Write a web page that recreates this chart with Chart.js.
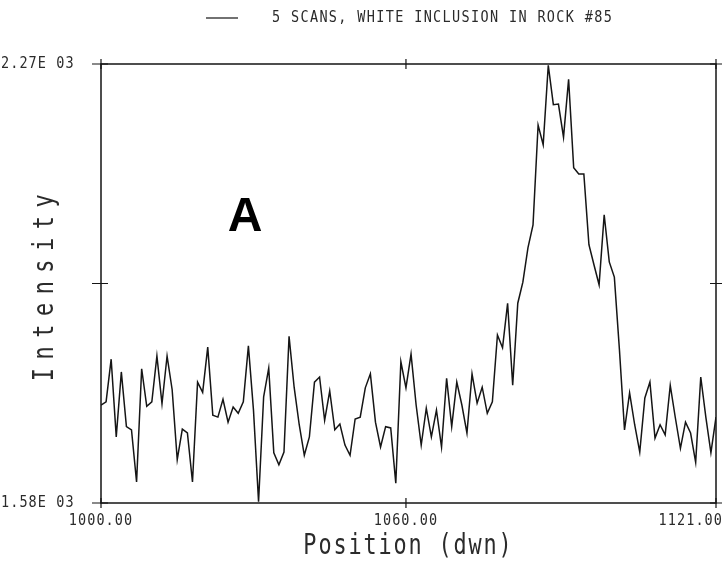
<!DOCTYPE html>
<html>
<head>
<meta charset="utf-8">
<script src="https://cdn.jsdelivr.net/npm/chart.js@4/dist/chart.umd.min.js"></script>
<style>
  html, body { margin: 0; padding: 0; background: #ffffff; }
  #wrap { width: 727px; height: 568px; position: relative; }
</style>
</head>
<body>
<div id="wrap"><canvas id="c" width="727" height="568"></canvas></div>
<script>
// ---- data ----
const positions = [
  1000,1001,1002,1003,1004,1005,1006,1007,1008,1009,
  1010,1011,1012,1013,1014,1015,1016,1017,1018,1019,
  1020,1021,1022,1023,1024,1025,1026,1027,1028,1029,
  1030,1031,1032,1033,1034,1035,1036,1037,1038,1039,
  1040,1041,1042,1043,1044,1045,1046,1047,1048,1049,
  1050,1051,1052,1053,1054,1055,1056,1057,1058,1059,
  1060,1061,1062,1063,1064,1065,1066,1067,1068,1069,
  1070,1071,1072,1073,1074,1075,1076,1077,1078,1079,
  1080,1081,1082,1083,1084,1085,1086,1087,1088,1089,
  1090,1091,1092,1093,1094,1095,1096,1097,1098,1099,
  1100,1101,1102,1103,1104,1105,1106,1107,1108,1109,
  1110,1111,1112,1113,1114,1115,1116,1117,1118,1119,
  1120,1121
];
const intensity = [
  1734,1739,1806,1684,1786,1700,1695,1613,1791,1732,
  1739,1811,1736,1811,1758,1648,1696,1690,1613,1770,
  1754,1825,1718,1715,1743,1707,1731,1721,1739,1827,
  1726,1582,1747,1792,1659,1640,1660,1842,1762,1703,
  1655,1684,1770,1778,1710,1756,1695,1704,1671,1655,
  1712,1715,1761,1783,1707,1668,1700,1698,1611,1802,
  1761,1814,1734,1671,1729,1684,1726,1668,1776,1700,
  1770,1734,1690,1783,1737,1762,1721,1739,1844,1824,
  1894,1765,1894,1927,1981,2017,2174,2143,2268,2206,
  2207,2155,2246,2107,2097,2097,1986,1954,1923,2033,
  1959,1935,1821,1695,1753,1703,1660,1745,1770,1682,
  1703,1687,1765,1714,1666,1707,1690,1644,1778,1715,
  1659,1715
];
const xTicks = [1000, 1060, 1121];
const xTickLabels = ["1000.00", "1060.00", "1121.00"];
const yTicks = [1580, 1925, 2270];
const yTickLabels = ["1.58E 03", "", "2.27E 03"];
const seriesLabel = "5 SCANS, WHITE INCLUSION IN ROCK #85";
const xTitle = "Position (dwn)";
const yTitle = "Intensity";
const panelLetter = "A";

const INK = '#151515';
const TXT = '#2b2b2b';
const MONO = '"DejaVu Sans Mono", "Liberation Mono", monospace';

// draw text horizontally compressed (plotter-like narrow glyphs)
function narrowText(ctx, text, x, y, sx, spacing) {
  ctx.save();
  ctx.translate(x, y);
  ctx.scale(sx, 1);
  ctx.letterSpacing = spacing + 'px';
  ctx.fillText(text, 0, 0);
  ctx.restore();
}

const decor = {
  id: 'decor',
  afterDatasetsDraw(chart) {
    const ctx = chart.ctx;
    const a = chart.chartArea;
    const xs = chart.scales.x, ys = chart.scales.y;
    ctx.save();
    // frame
    ctx.strokeStyle = INK;
    ctx.lineWidth = 1.5;
    ctx.strokeRect(a.left, a.top, a.right - a.left, a.bottom - a.top);
    // tick crosses
    ctx.lineWidth = 1.2;
    ctx.beginPath();
    xTicks.forEach(v => {
      const px = xs.getPixelForValue(v);
      ctx.moveTo(px, a.bottom - 5); ctx.lineTo(px, a.bottom + 5);
      ctx.moveTo(px, a.top - 5); ctx.lineTo(px, a.top + 5);
    });
    yTicks.forEach(v => {
      const py = ys.getPixelForValue(v);
      ctx.moveTo(a.left - 9, py); ctx.lineTo(a.left + 7, py);
      ctx.moveTo(a.right - 6, py); ctx.lineTo(a.right + 6, py);
    });
    ctx.stroke();

    ctx.fillStyle = TXT;
    // y tick labels
    ctx.font = '15px ' + MONO;
    ctx.textBaseline = 'middle';
    ctx.textAlign = 'left';
    yTicks.forEach((v, i) => {
      if (yTickLabels[i]) narrowText(ctx, yTickLabels[i], 1, ys.getPixelForValue(v), 0.9, 1.2);
    });
    // x tick labels
    ctx.textBaseline = 'top';
    xTicks.forEach((v, i) => {
      const px = xs.getPixelForValue(v);
      if (i === xTicks.length - 1) { ctx.textAlign = 'right'; narrowText(ctx, xTickLabels[i], px + 7, a.bottom + 11, 0.9, 1.2); }
      else { ctx.textAlign = 'center'; narrowText(ctx, xTickLabels[i], px, a.bottom + 11, 0.9, 1.2); }
    });

    // axis titles (tall, narrow glyphs)
    ctx.font = '28px ' + MONO;
    ctx.textAlign = 'center';
    ctx.textBaseline = 'middle';
    narrowText(ctx, xTitle, (a.left + a.right) / 2, 547, 0.78, 2.4);
    ctx.save();
    ctx.translate(46, (a.top + a.bottom) / 2);
    ctx.rotate(-Math.PI / 2);
    narrowText(ctx, yTitle, 0, 0, 0.78, 11);
    ctx.restore();

    // legend
    ctx.font = '15px ' + MONO;
    ctx.textAlign = 'left';
    ctx.textBaseline = 'middle';
    narrowText(ctx, seriesLabel, 272, 18, 0.9, 1.5);
    ctx.strokeStyle = INK;
    ctx.lineWidth = 1.2;
    ctx.beginPath();
    ctx.moveTo(206, 18); ctx.lineTo(238, 18);
    ctx.stroke();

    // panel letter
    ctx.fillStyle = '#000';
    ctx.letterSpacing = '0px';
    ctx.font = 'bold 48px "Liberation Sans", Arial, sans-serif';
    ctx.textAlign = 'center';
    ctx.textBaseline = 'middle';
    ctx.fillText(panelLetter, 245, 218);
    ctx.restore();
  }
};

new Chart(document.getElementById('c'), {
  type: 'line',
  data: {
    datasets: [{
      label: seriesLabel,
      data: positions.map((p, i) => ({ x: p, y: intensity[i] })),
      borderColor: INK,
      borderWidth: 1.5,
      pointRadius: 0,
      tension: 0,
      fill: false
    }]
  },
  options: {
    responsive: false,
    animation: false,
    layout: { padding: { left: 101, right: 11, top: 64, bottom: 65 } },
    plugins: { legend: { display: false }, tooltip: { enabled: false } },
    scales: {
      x: { type: 'linear', min: 1000, max: 1121, display: false },
      y: { type: 'linear', min: 1580, max: 2270, display: false }
    }
  },
  plugins: [decor]
});
</script>
</body>
</html>
